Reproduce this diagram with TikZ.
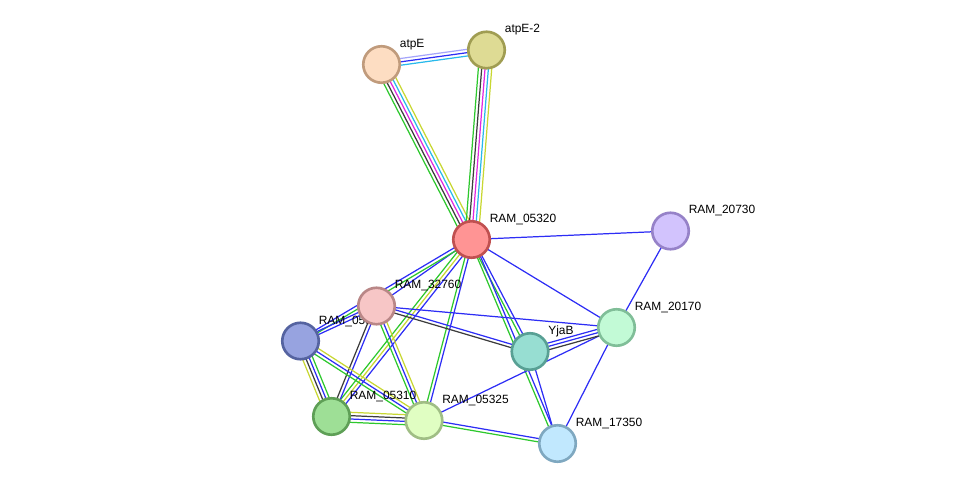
\documentclass[tikz,border=0pt]{standalone}
\usepackage{fontspec}
\setmainfont{Liberation Sans}
\usepackage{tikz}
\usetikzlibrary{calc}

% evidence colours
\definecolor{evgreen}{RGB}{45,200,45}
\definecolor{evblue}{RGB}{45,45,245}
\definecolor{evblack}{RGB}{60,60,60}
\definecolor{evmagenta}{RGB}{225,40,225}
\definecolor{evcyan}{RGB}{40,185,235}
\definecolor{evyellow}{RGB}{200,215,50}
\definecolor{evlavender}{RGB}{165,165,250}

% protein colours
\definecolor{fatpE}{RGB}{253,221,194}   \definecolor{batpE}{RGB}{192,155,124}
\definecolor{fatpEb}{RGB}{222,219,148}  \definecolor{batpEb}{RGB}{160,157,82}
\definecolor{f05320}{RGB}{255,148,148}  \definecolor{b05320}{RGB}{192,80,80}
\definecolor{f20730}{RGB}{210,195,253}  \definecolor{b20730}{RGB}{150,130,200}
\definecolor{f32760}{RGB}{247,198,198}  \definecolor{b32760}{RGB}{185,135,135}
\definecolor{f05315}{RGB}{151,163,224}  \definecolor{b05315}{RGB}{85,99,160}
\definecolor{fyjab}{RGB}{151,222,210}   \definecolor{byjab}{RGB}{88,160,148}
\definecolor{f20170}{RGB}{194,250,214}  \definecolor{b20170}{RGB}{128,190,152}
\definecolor{f05310}{RGB}{158,223,150}  \definecolor{b05310}{RGB}{94,159,86}
\definecolor{f05325}{RGB}{224,254,194}  \definecolor{b05325}{RGB}{160,190,133}
\definecolor{f17350}{RGB}{193,232,254}  \definecolor{b17350}{RGB}{127,168,192}

\pgfdeclarelayer{edges}
\pgfdeclarelayer{labels}
\pgfsetlayers{edges,labels,main}

\tikzset{
  gene/.style={circle, minimum size=0.73cm, inner sep=0pt, line width=1.5pt},
  genelabel/.style={anchor=base west, inner sep=0pt, font=\fontsize{6.8}{8}\selectfont},
  evline/.style={line width=0.7pt},
}

% protein node with its label just above right
\newcommand{\gene}[5]{%
  \node[gene, fill=#3, draw=#4] (#1) at (#2) {};
  \begin{pgfonlayer}{labels}
    \node[genelabel] (#1-lab) at ($(#1.center)+(18,-17)$) {#5};
  \end{pgfonlayer}
}

% bundle of parallel coloured lines between two nodes
\newcommand{\evlink}[3]{%
  \foreach \c [count=\i] in {#3} {\xdef\nev{\i}}
  \foreach \c [count=\i] in {#3} {
    \pgfmathsetmacro\off{(\i-(\nev+1)/2)*1.9}
    \draw[evline, \c] ($(#1.center)!\off pt!90:(#2.center)$) -- ($(#2.center)!\off pt!-90:(#1.center)$);
  }
}

\begin{document}
\begin{tikzpicture}[x=0.02cm, y=-0.02cm]
\useasboundingbox (0,0) rectangle (976,489);

% Proteins
\gene{atpE}{381.5,64.5}{fatpE}{batpE}{atpE}
\gene{atpEb}{486.5,50}{fatpEb}{batpEb}{atpE-2}
\gene{r05320}{471.5,239.5}{f05320}{b05320}{RAM\_05320}
\gene{r20730}{670.5,231}{f20730}{b20730}{RAM\_20730}
\gene{r32760}{376.5,306}{f32760}{b32760}{RAM\_32760}
\gene{r05315}{300.5,341}{f05315}{b05315}{RAM\_05315}
\gene{yjab}{530,351.5}{fyjab}{byjab}{YjaB}
\gene{r20170}{616.5,327.5}{f20170}{b20170}{RAM\_20170}
\gene{r05310}{331.5,416.5}{f05310}{b05310}{RAM\_05310}
\gene{r05325}{424,420.5}{f05325}{b05325}{RAM\_05325}
\gene{r17350}{557.5,443.5}{f17350}{b17350}{RAM\_17350}

% Interactions
\begin{pgfonlayer}{edges}
\evlink{atpE}{atpEb}{evcyan,evblue,evlavender}
\evlink{atpE}{r05320}{evgreen,evblack,evmagenta,evcyan,evyellow}
\evlink{atpEb}{r05320}{evgreen,evblack,evmagenta,evcyan,evyellow}
\evlink{r05320}{r20730}{evblue}
\evlink{r05320}{r20170}{evblue}
\evlink{r20730}{r20170}{evblue}
\evlink{r05320}{yjab}{evgreen,evblue}
\evlink{r05320}{r17350}{evgreen,evblue}
\evlink{r05320}{r32760}{evblue}
\evlink{r05320}{r05315}{evblue,evgreen}
\evlink{r05320}{r05310}{evgreen,evyellow,evblue}
\evlink{r05320}{r05325}{evgreen,evblue}
\evlink{r32760}{r20170}{evblue}
\evlink{r32760}{yjab}{evblack,evblue}
\evlink{r32760}{r05315}{evblue,evblue}
\evlink{r32760}{r05310}{evblack,evblue}
\evlink{r32760}{r05325}{evgreen,evblue,evyellow}
\evlink{r05315}{r05310}{evyellow,evblack,evblue,evgreen}
\evlink{r05315}{r05325}{evgreen,evblue,evyellow}
\evlink{r05310}{r05325}{evgreen,evblue,evblack,evyellow}
\evlink{r05325}{r20170}{evblue}
\evlink{r05325}{r17350}{evgreen,evblue}
\evlink{yjab}{r20170}{evblack,evblue,evblue}
\evlink{yjab}{r17350}{evblue}
\evlink{r20170}{r17350}{evblue}
\end{pgfonlayer}
\end{tikzpicture}
\end{document}
